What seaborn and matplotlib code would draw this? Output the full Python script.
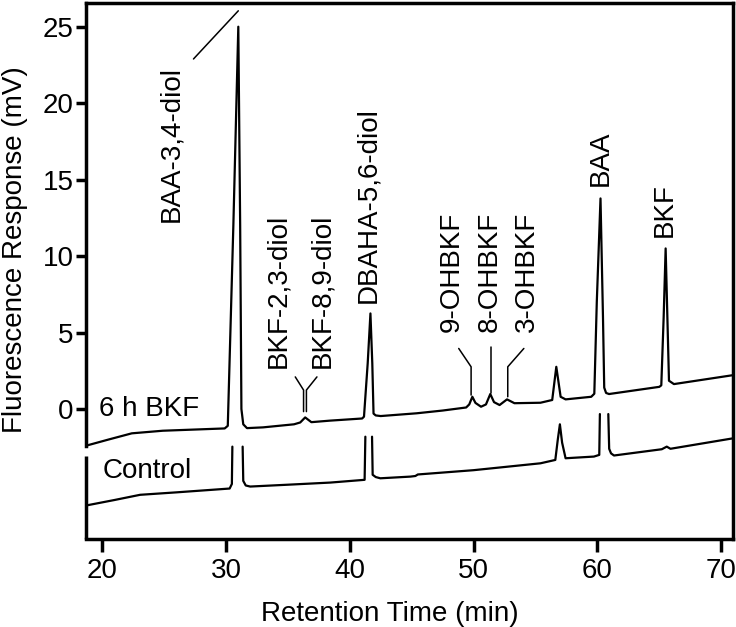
import numpy as np
import pandas as pd
import matplotlib
matplotlib.use("Agg")
import matplotlib.pyplot as plt
import seaborn as sns

# Chromatogram traces (time in min, response in mV)
bkf_time = [18.7, 20.5, 22.4, 24.9, 29.9, 30.15, 30.6, 31.0, 31.15, 31.25, 31.4, 31.7,
            33.0, 35.5, 36.0, 36.4, 36.9, 38.4, 41.0, 41.15, 41.45, 41.67, 41.82, 41.92,
            42.1, 42.5, 45.4, 47.5, 49.4, 49.65, 49.9, 50.15, 50.6, 51.0, 51.35, 51.65,
            52.1, 52.7, 53.3, 55.4, 56.35, 56.68, 57.03, 57.43, 59.5, 59.75, 59.95, 60.25,
            60.45, 60.55, 60.7, 60.94, 65.0, 65.16, 65.35, 65.51, 65.65, 65.78, 66.18, 71.0]
bkf_resp = [-2.4, -2.0, -1.59, -1.42, -1.27, -1.1, 12.0, 25.0, 12.0, 0.0, -1.0, -1.25,
            -1.2, -1.0, -0.88, -0.55, -0.86, -0.76, -0.62, -0.5, 3.0, 6.25, 3.0, -0.3,
            -0.42, -0.46, -0.28, -0.1, 0.1, 0.3, 0.8, 0.4, 0.15, 0.3, 0.98, 0.45,
            0.26, 0.63, 0.38, 0.41, 0.59, 2.76, 0.8, 0.63, 0.8, 1.0, 7.0, 13.77,
            6.0, 1.4, 1.05, 0.98, 1.45, 1.55, 6.0, 10.5, 6.0, 1.85, 1.63, 2.22]

# control peaks are cut off below the upper trace (nan = break in the line)
ctrl_time = [18.7, 21.0, 23.07, 26.0, 30.3, 30.48, 30.52, np.nan,
             31.35, 31.4, 31.6, 31.96, 35.0, 38.43, 41.2, 41.26, np.nan,
             41.8, 41.85, 42.1, 42.47, 44.9, 45.3, 45.5, 50.0, 55.4, 56.6, 56.8,
             56.97, 57.15, 57.43, 59.72, 60.15, 60.2, np.nan,
             60.88, 60.95, 61.1, 61.34, 65.2, 65.6, 65.9, 71.0]
ctrl_resp = [-6.31, -5.95, -5.61, -5.45, -5.2, -4.9, -2.46, np.nan,
             -2.46, -4.7, -5.0, -5.07, -4.95, -4.81, -4.63, -1.81, np.nan,
             -1.81, -4.3, -4.45, -4.53, -4.42, -4.38, -4.28, -4.0, -3.55, -3.33, -2.0,
             -1.0, -2.2, -3.22, -3.11, -3.0, -0.33, np.nan,
             -0.33, -2.6, -2.9, -3.04, -2.63, -2.46, -2.6, -1.91]

# peak labels: text, x, y (bottom of rotated text)
peak_labels = ["BAA-3,4-diol", "BKF-2,3-diol", "BKF-8,9-diol", "DBAHA-5,6-diol",
               "9-OHBKF", "8-OHBKF", "3-OHBKF", "BAA", "BKF"]
label_x = [25.6, 34.25, 37.75, 41.5, 48.27, 51.3, 54.33, 60.26, 65.4]
label_y = [12.25, 2.65, 2.65, 6.9, 5.05, 5.05, 5.05, 14.6, 11.25]

# leader lines from labels to peaks
leaders = [
    ([27.38, 31.0], [22.89, 26.04]),
    ([35.6, 36.27, 36.27], [2.1, 1.24, -0.17]),
    ([37.35, 36.5, 36.5], [2.1, 1.24, -0.17]),
    ([48.8, 49.8, 49.8], [3.96, 2.76, 0.91]),
    ([51.37, 51.37], [4.07, 1.06]),
    ([54.06, 52.76, 52.76], [3.96, 2.76, 0.8]),
]

x_ticks = [20, 30, 40, 50, 60, 70]
y_ticks = [0, 5, 10, 15, 20, 25]

sns.set_theme(style="ticks")
plt.rcParams["font.family"] = ["Liberation Sans", "DejaVu Sans"]

bkf_df = pd.DataFrame({"time": bkf_time, "resp": bkf_resp, "seg": 0})
ctrl_df = pd.DataFrame({"time": ctrl_time, "resp": ctrl_resp})
ctrl_df["seg"] = ctrl_df["time"].isna().cumsum() + 1
ctrl_df = ctrl_df.dropna()
traces = pd.concat([bkf_df, ctrl_df], ignore_index=True)

fig = plt.figure(figsize=(7.36, 6.27), dpi=100)
ax = fig.add_axes([86 / 736, 1 - 539 / 627, 647 / 736, 536 / 627])

sns.lineplot(data=traces, x="time", y="resp", units="seg", estimator=None,
             color="black", linewidth=1.6, ax=ax, legend=False)

for xs, ys in leaders:
    ax.plot(xs, ys, color="black", linewidth=1.1)

for txt, x, y in zip(peak_labels, label_x, label_y):
    ax.text(x, y, txt, rotation=90, ha="center", va="bottom", fontsize=20, color="black")

ax.text(19.78, -0.46, "6 h BKF", ha="left", va="baseline", fontsize=20, color="black")
ax.text(20.05, -4.52, "Control", ha="left", va="baseline", fontsize=20, color="black")

ax.set_xlim(18.7, 70.95)
ax.set_ylim(-8.5, 26.55)
ax.set_xticks(x_ticks)
ax.set_yticks(y_ticks)
ax.tick_params(axis="both", labelsize=20, width=2.5, color="black", labelcolor="black")
ax.tick_params(axis="x", length=9.5, pad=4)
ax.tick_params(axis="y", length=7, pad=2)

for side in ["left", "right", "top", "bottom"]:
    ax.spines[side].set_visible(True)
    ax.spines[side].set_linewidth(2.5)
    ax.spines[side].set_color("black")

# broken left axis between the two traces
ax.spines["left"].set_bounds(-2.4, 26.55)
ax.plot([0, 0], [-8.5, -3.1], transform=ax.get_yaxis_transform(),
        color="black", linewidth=2.5, clip_on=False, solid_capstyle="butt")

ax.set_xlabel("Retention Time (min)", fontsize=20, color="black")
ax.set_ylabel("Fluorescence Response (mV)", fontsize=20, color="black")
ax.xaxis.set_label_coords(0.47, -0.115)
ax.yaxis.set_label_coords(-0.089, 0.54)

fig.savefig("out.png", dpi=100)
